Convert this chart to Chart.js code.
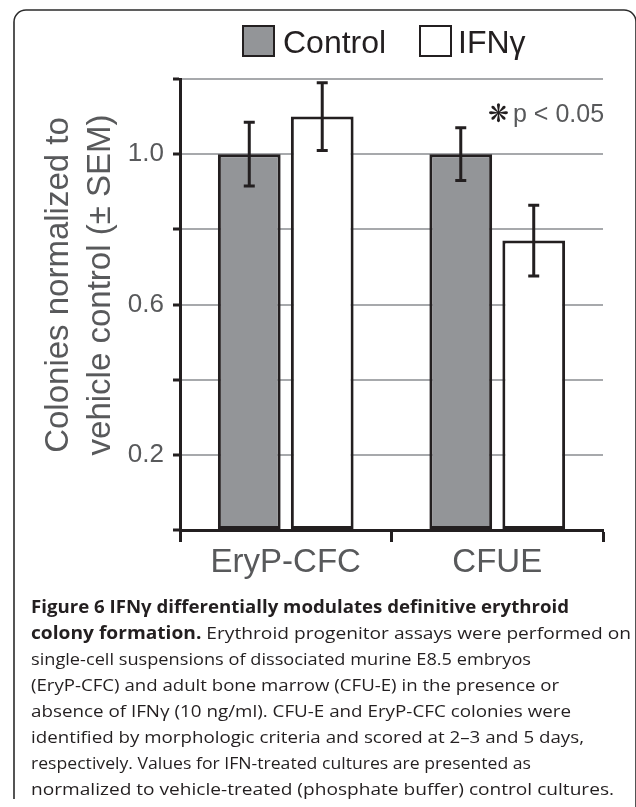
<!DOCTYPE html>
<html>
<head>
<meta charset="utf-8">
<script src="https://cdn.jsdelivr.net/npm/chart.js@4.4.0/dist/chart.umd.min.js"></script>
<style>
  html, body { margin: 0; padding: 0; background: #ffffff; }
  #wrap { position: relative; width: 636px; height: 807px; }
  canvas { display: block; }
</style>
</head>
<body>
<div id="wrap"><canvas id="c" width="636" height="807"></canvas></div>
<script>
// ---------------- data ----------------
const categories = ["EryP-CFC", "CFUE"];
const seriesNames = ["Control", "IFNγ"];
const controlValues = [1.0, 1.0];
const ifnValues = [1.10, 0.77];
const controlSEM = [0.085, 0.07];
const ifnSEM = [0.09, 0.094];
const yTickValues = [0, 0.2, 0.4, 0.6, 0.8, 1.0, 1.2];
const yTickLabels = ["", "0.2", "", "0.6", "", "1.0", ""];
const yTitleLines = ["Colonies normalized to", "vehicle control (± SEM)"];
const significanceMark = "❋";
const significanceText = "p < 0.05";
const captionLines = [
  [["Figure 6 IFNγ differentially modulates definitive erythroid", true]],
  [["colony formation.", true], [" Erythroid progenitor assays were performed on", false]],
  [["single-cell suspensions of dissociated murine E8.5 embryos", false]],
  [["(EryP-CFC) and adult bone marrow (CFU-E) in the presence or", false]],
  [["absence of IFNγ (10 ng/ml). CFU-E and EryP-CFC colonies were", false]],
  [["identified by morphologic criteria and scored at 2–3 and 5 days,", false]],
  [["respectively. Values for IFN-treated cultures are presented as", false]],
  [["normalized to vehicle-treated (phosphate buffer) control cultures.", false]]
];

// ---------------- styles ----------------
const DARK = "#231f20";
const GRAY_TEXT = "#58595b";
const BAR_GRAY = "#939598";
const GRID_GRAY = "#a7a9ac";
const SANS = "'Liberation Sans', Arial, Helvetica, sans-serif";
const CAP_FONT = "'Open Sans', 'Noto Sans', sans-serif";
const captionRight = [569, 631, 531, 559, 571, 584, 531, 614];

Chart.defaults.font.family = SANS;

const framePlugin = {
  id: "frame",
  beforeDraw(chart) {
    const ctx = chart.ctx;
    ctx.save();
    ctx.fillStyle = "#ffffff";
    ctx.fillRect(0, 0, chart.width, chart.height);
    ctx.strokeStyle = "#2b2b2b";
    ctx.lineWidth = 1.6;
    ctx.beginPath();
    ctx.moveTo(14, 799);
    ctx.lineTo(14, 22);
    ctx.arcTo(14, 10, 26, 10, 12);
    ctx.lineTo(624, 10);
    ctx.arcTo(636, 10, 636, 22, 12);
    ctx.lineTo(636, 807);
    ctx.stroke();
    ctx.restore();
  }
};

const errorBarPlugin = {
  id: "errorBars",
  afterDatasetsDraw(chart) {
    const ctx = chart.ctx;
    const yScale = chart.scales.y;
    ctx.save();
    ctx.strokeStyle = DARK;
    ctx.lineWidth = 3;
    chart.data.datasets.forEach((ds, di) => {
      const meta = chart.getDatasetMeta(di);
      meta.data.forEach((bar, i) => {
        const v = ds.data[i], e = ds.errors[i];
        const yTop = yScale.getPixelForValue(v + e);
        const yBot = yScale.getPixelForValue(v - e);
        const x = bar.x;
        ctx.beginPath();
        ctx.moveTo(x, yTop); ctx.lineTo(x, yBot);
        ctx.moveTo(x - 5.5, yTop); ctx.lineTo(x + 5.5, yTop);
        ctx.moveTo(x - 5.5, yBot); ctx.lineTo(x + 5.5, yBot);
        ctx.stroke();
      });
    });
    ctx.restore();
  }
};

const annotationPlugin = {
  id: "annotations",
  afterDraw(chart) {
    const ctx = chart.ctx;
    ctx.save();
    // legend
    const boxes = [243, 420];
    const textX = [283, 458];
    chart.data.datasets.forEach((ds, i) => {
      ctx.fillStyle = ds.backgroundColor;
      ctx.fillRect(boxes[i], 26, 31, 30);
      ctx.strokeStyle = DARK;
      ctx.lineWidth = 2;
      ctx.strokeRect(boxes[i], 26, 31, 30);
      ctx.fillStyle = DARK;
      ctx.font = "32px " + SANS;
      ctx.textAlign = "left";
      ctx.textBaseline = "alphabetic";
      ctx.fillText(ds.label, textX[i], 53);
    });

    // y-axis title (two rotated lines)
    ctx.fillStyle = GRAY_TEXT;
    ctx.font = "33px " + SANS;
    ctx.textAlign = "center";
    ctx.textBaseline = "alphabetic";
    const baseX = [68, 110];
    yTitleLines.forEach((t, i) => {
      ctx.save();
      ctx.translate(baseX[i], 285);
      ctx.rotate(-Math.PI / 2);
      ctx.fillText(t, 0, 0);
      ctx.restore();
    });

    // significance note
    ctx.textAlign = "left";
    ctx.fillStyle = DARK;
    ctx.font = "bold 25px 'DejaVu Sans', sans-serif";
    ctx.fillText(significanceMark, 488, 122);
    ctx.fillStyle = GRAY_TEXT;
    ctx.font = "25px " + SANS;
    ctx.fillText(significanceText, 513, 122);

    // caption
    ctx.fillStyle = DARK;
    captionLines.forEach((segs, li) => {
      const y = 613 + 26 * li;
      let natural = 0;
      segs.forEach(([t, b]) => {
        ctx.font = (b ? "bold " : "") + "17px " + CAP_FONT;
        natural += ctx.measureText(t).width;
      });
      const k = (captionRight[li] - 31) / natural;
      ctx.save();
      ctx.translate(31, y);
      ctx.scale(k, 1);
      let x = 0;
      segs.forEach(([t, b]) => {
        ctx.font = (b ? "bold " : "") + "17px " + CAP_FONT;
        ctx.fillText(t, x, 0);
        x += ctx.measureText(t).width;
      });
      ctx.restore();
    });
    ctx.restore();
  }
};

new Chart(document.getElementById("c"), {
  type: "bar",
  data: {
    labels: categories,
    datasets: [
      {
        label: seriesNames[0],
        data: controlValues,
        errors: controlSEM,
        backgroundColor: BAR_GRAY,
        borderColor: DARK,
        borderWidth: 3,
        borderSkipped: false
      },
      {
        label: seriesNames[1],
        data: ifnValues,
        errors: ifnSEM,
        backgroundColor: "#ffffff",
        borderColor: DARK,
        borderWidth: 3,
        borderSkipped: false
      }
    ]
  },
  options: {
    responsive: false,
    animation: false,
    devicePixelRatio: 1,
    categoryPercentage: 0.69,
    barPercentage: 0.86,
    layout: { padding: { left: 122, top: 79, right: 33, bottom: 217 } },
    plugins: {
      legend: { display: false },
      title: { display: false },
      tooltip: { enabled: false }
    },
    scales: {
      x: {
        offset: true,
        grid: {
          display: true,
          offset: true,
          drawOnChartArea: false,
          drawTicks: true,
          tickLength: 12,
          tickColor: DARK,
          tickWidth: 3
        },
        border: { display: true, color: DARK, width: 3 },
        ticks: {
          color: GRAY_TEXT,
          font: { size: 33, family: SANS },
          padding: 1,
          maxRotation: 0
        },
        afterFit(s) { s.height = 60; }
      },
      y: {
        min: 0,
        max: 1.2,
        afterBuildTicks(s) { s.ticks = yTickValues.map(v => ({ value: v })); },
        grid: {
          color: GRID_GRAY,
          lineWidth: 2,
          drawTicks: true,
          tickLength: 7,
          tickColor: DARK,
          tickWidth: 3
        },
        border: { display: true, color: DARK, width: 3 },
        ticks: {
          color: GRAY_TEXT,
          font: { size: 26, family: SANS },
          padding: 9,
          callback(value, index) { return yTickLabels[index]; }
        },
        afterFit(s) { s.width = 58; }
      }
    }
  },
  plugins: [framePlugin, errorBarPlugin, annotationPlugin]
});
</script>
</body>
</html>
